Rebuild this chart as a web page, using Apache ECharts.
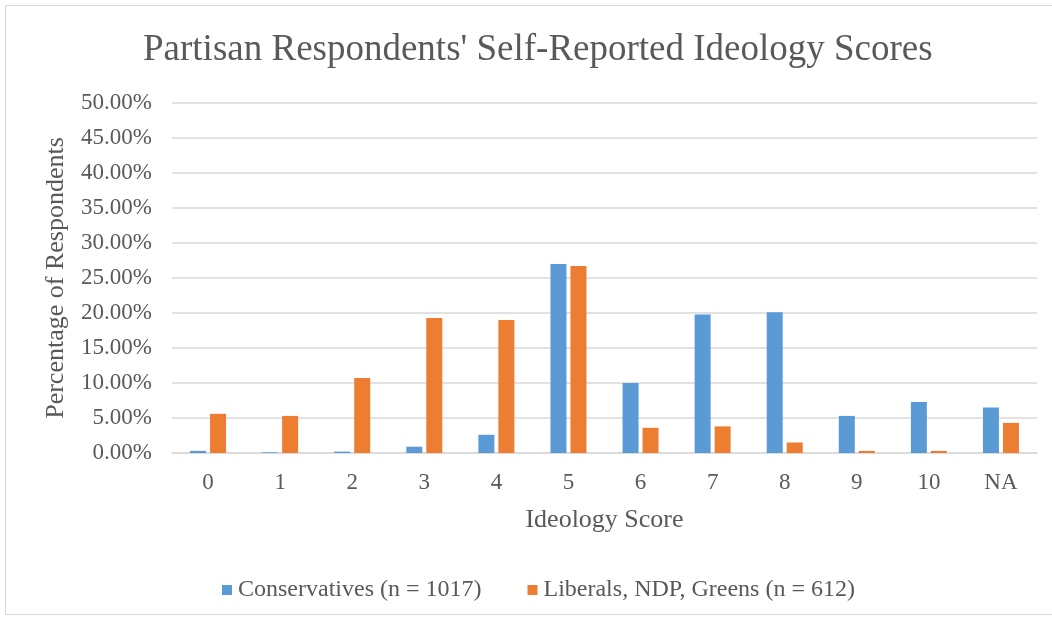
<!DOCTYPE html>
<html>
<head>
<meta charset="utf-8">
<script src="https://cdn.jsdelivr.net/npm/echarts@6/dist/echarts.min.js"></script>
<style>
html,body{margin:0;padding:0;background:#fff;}
#main{width:1052px;height:619px;}
</style>
</head>
<body>
<div id="main"></div>
<script>
var categories = ['0','1','2','3','4','5','6','7','8','9','10','NA'];
var conservatives = [0.3, 0.1, 0.2, 0.9, 2.6, 27.0, 10.0, 19.8, 20.1, 5.3, 7.3, 6.5];
var liberals = [5.6, 5.3, 10.7, 19.3, 19.0, 26.7, 3.6, 3.8, 1.5, 0.3, 0.3, 4.3];
var seriesNames = ['Conservatives (n = 1017)', 'Liberals, NDP, Greens (n = 612)'];

var fontFam = '"Liberation Serif","DejaVu Serif",serif';
var textCol = '#595959';

var myChart = echarts.init(document.getElementById('main'));
var option = {
    backgroundColor: '#fff',
    color: ['#5b9bd5', '#ed7d31'],
    graphic: [{
        type: 'rect',
        shape: {x: 5.5, y: 5.5, width: 1060, height: 609},
        style: {fill: 'none', stroke: '#d9d9d9', lineWidth: 1}
    }],
    title: {
        text: "Partisan Respondents' Self-Reported Ideology Scores",
        left: 138,
        top: 27,
        textStyle: {fontFamily: fontFam, fontSize: 37, fontWeight: 'normal', color: textCol}
    },
    legend: {
        top: 573,
        left: 217,
        itemWidth: 10,
        itemHeight: 10,
        itemGap: 46,
        icon: 'rect',
        textStyle: {fontFamily: fontFam, fontSize: 24, color: textCol, padding: [0, 0, 0, 1]},
        data: seriesNames
    },
    grid: {left: 172, right: 15, top: 103, bottom: 166, containLabel: false},
    xAxis: {
        type: 'category',
        data: categories,
        name: 'Ideology Score',
        nameLocation: 'middle',
        nameGap: 54,
        nameTextStyle: {fontFamily: fontFam, fontSize: 26, color: textCol},
        axisLine: {lineStyle: {color: '#d9d9d9', width: 1.5}},
        axisTick: {show: false},
        axisLabel: {fontFamily: fontFam, fontSize: 23, color: textCol, margin: 18}
    },
    yAxis: {
        type: 'value',
        min: 0,
        max: 50,
        interval: 5,
        name: 'Percentage of Respondents',
        nameLocation: 'middle',
        nameGap: 103,
        nameTextStyle: {fontFamily: fontFam, fontSize: 26, color: textCol},
        axisLine: {show: false},
        axisTick: {show: false},
        splitLine: {lineStyle: {color: '#d9d9d9', width: 1.5}},
        axisLabel: {
            fontFamily: fontFam, fontSize: 23, color: textCol, margin: 20,
            formatter: function(v){ return v.toFixed(2) + '%'; }
        }
    },
    series: [
        {
            name: seriesNames[0],
            type: 'bar',
            data: conservatives,
            barWidth: 16,
            barGap: '25%',
            barCategoryGap: '50%'
        },
        {
            name: seriesNames[1],
            type: 'bar',
            data: liberals,
            barWidth: 16,
            barGap: '25%',
            barCategoryGap: '50%'
        }
    ]
};
myChart.setOption(option, true);
</script>
</body>
</html>
